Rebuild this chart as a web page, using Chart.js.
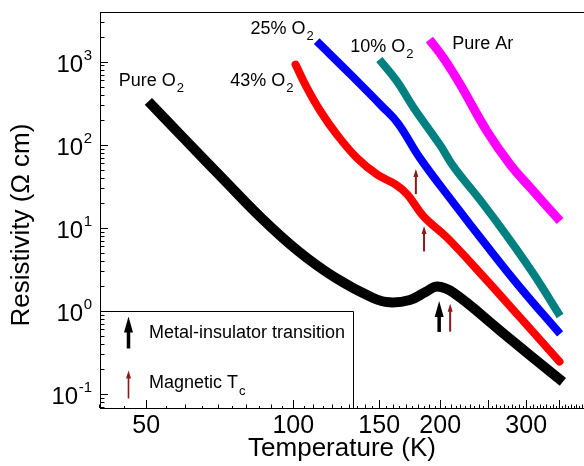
<!DOCTYPE html>
<html>
<head>
<meta charset="utf-8">
<script src="https://cdn.jsdelivr.net/npm/chart.js@4.4.1/dist/chart.umd.min.js"></script>
<style>
  html, body { margin: 0; padding: 0; background: #fff; overflow: hidden; }
</style>
</head>
<body>
<canvas id="chart" width="584" height="466"></canvas>
<script>
// Temperature (K) and resistivity (ohm cm)
const pureO2T = [50.5, 59.5, 72.1, 86.0, 102.4, 122.0, 145.4, 157.2, 173.3, 186.6, 197.2, 212.8, 265.5, 305.6, 356.6];
const pureO2R = [333, 122, 38.0, 13.2, 5.26, 2.51, 1.445, 1.27, 1.356, 1.69, 1.97, 1.66, 0.578, 0.293, 0.140];

const o2_43T = [101.1, 106.7, 113.7, 122.8, 135.0, 148.4, 161.9, 171.2, 184.8, 206.7, 246.4, 291.7, 351];
const o2_43R = [923, 483, 253, 133, 69.6, 44.0, 33.3, 25.3, 13.8, 7.6, 2.51, 0.83, 0.246];

const o2_25T = [111.7, 130.9, 152.0, 164.0, 181.8, 212.9, 249.3, 291.7, 352];
const o2_25R = [1763, 705, 290, 180, 69.1, 20.0, 6.04, 1.91, 0.529];

const o2_10T = [150.1, 163.0, 176.6, 200, 212.8, 242.4, 272.5, 310.9, 352];
const o2_10R = [1062, 583, 277, 98.5, 55, 21.0, 8.36, 2.76, 0.87];

const pureArT = [190.1, 203.1, 219.8, 249.4, 278.1, 306, 352];
const pureArR = [1846, 1108, 532, 145, 57.9, 30.4, 12.1];

// transition temperatures marked by arrows
const mitTemp = 199;
const tcTemps = [178.3, 185.3, 209.6];

// axis ticks
const xTicks = [50, 100, 150, 200, 250, 300, 350];
const xLabels = [50, 100, 150, 200, 300];
const yDecades = [-1, 0, 1, 2, 3];

const FONT = "'Liberation Sans', Arial, Helvetica, sans-serif";
const TC_RED = '#8b1a1a';

function pts(xs, ys) {
  return xs.map((x, i) => ({ x: x, y: ys[i] }));
}

function drawArrow(ctx, x, yTip, yTail, shaft, headW, headL, color) {
  ctx.fillStyle = color;
  ctx.fillRect(x - shaft / 2, yTip + headL - 1, shaft, yTail - yTip - headL + 1);
  ctx.beginPath();
  ctx.moveTo(x, yTip);
  ctx.lineTo(x + headW / 2, yTip + headL);
  ctx.lineTo(x - headW / 2, yTip + headL);
  ctx.closePath();
  ctx.fill();
}

function labelWithSub(ctx, text, sub, x, y, size) {
  ctx.font = size + 'px ' + FONT;
  ctx.textAlign = 'left';
  ctx.textBaseline = 'middle';
  ctx.fillText(text, x, y);
  const w = ctx.measureText(text).width;
  ctx.font = Math.round(size * 0.7) + 'px ' + FONT;
  ctx.fillText(sub, x + w + 1, y + size * 0.42);
}

const decorations = {
  id: 'decorations',
  afterDraw(chart) {
    const { ctx, chartArea: a } = chart;
    const xs = chart.scales.x;
    const ys = chart.scales.y;
    ctx.save();
    ctx.strokeStyle = '#000';
    ctx.lineWidth = 1;

    // top frame line
    ctx.beginPath();
    ctx.moveTo(a.left, a.top + 0.5);
    ctx.lineTo(a.right, a.top + 0.5);
    ctx.stroke();

    // y ticks, pointing inward
    ctx.beginPath();
    for (let d = -2; d <= 3; d++) {
      for (let m = 1; m <= 9; m++) {
        const v = m * Math.pow(10, d);
        if (v < ys.min || v > ys.max) continue;
        const py = Math.round(ys.getPixelForValue(v)) + 0.5;
        const len = m === 1 ? 8 : 4.5;
        ctx.moveTo(a.left, py);
        ctx.lineTo(a.left + len, py);
      }
    }
    // x ticks
    for (let t = 40; t <= 390; t += 5) {
      const px = Math.round(xs.getPixelForValue(t)) + 0.5;
      let len = t % 10 === 0 ? 3.5 : 2;
      if (xTicks.includes(t)) len = 8;
      ctx.moveTo(px, a.bottom);
      ctx.lineTo(px, a.bottom - len);
    }
    ctx.stroke();

    // y tick labels 10^n
    ctx.fillStyle = '#000';
    ctx.textBaseline = 'alphabetic';
    yDecades.forEach(d => {
      const py = ys.getPixelForValue(Math.pow(10, d));
      const exp = d < 0 ? '-' + (-d) : String(d);
      ctx.font = '15px ' + FONT;
      const ew = ctx.measureText(exp).width;
      const right = a.left - 8;
      ctx.textAlign = 'left';
      ctx.fillText(exp, right - ew, py - 2);
      ctx.font = '24px ' + FONT;
      ctx.textAlign = 'right';
      ctx.fillText('10', right - ew - 0.5, py + 10);
    });

    // y axis title
    ctx.save();
    ctx.translate(22, 225);
    ctx.rotate(-Math.PI / 2);
    ctx.font = '26px ' + FONT;
    ctx.textAlign = 'center';
    ctx.textBaseline = 'middle';
    ctx.fillText('Resistivity (\u03A9 cm)', 0, 0);
    ctx.restore();

    // curve labels
    ctx.fillStyle = '#000';
    labelWithSub(ctx, 'Pure O', '2', xs.getPixelForValue(43.9), ys.getPixelForValue(580), 18);
    labelWithSub(ctx, '43% O', '2', xs.getPixelForValue(74.3), ys.getPixelForValue(580), 18);
    labelWithSub(ctx, '25% O', '2', xs.getPixelForValue(81.7), ys.getPixelForValue(2450), 18);
    labelWithSub(ctx, '10% O', '2', xs.getPixelForValue(130.9), ys.getPixelForValue(1520), 18);
    ctx.font = '18px ' + FONT;
    ctx.textAlign = 'left';
    ctx.textBaseline = 'middle';
    ctx.fillText('Pure Ar', xs.getPixelForValue(211.6), ys.getPixelForValue(1620));

    // transition arrows
    drawArrow(ctx, xs.getPixelForValue(mitTemp), ys.getPixelForValue(1.32), ys.getPixelForValue(0.56), 3.5, 9, 16, '#000');
    const tcTips = [[51, 25.5], [10.5, 5.2], [1.22, 0.564]];
    tcTemps.forEach((t, i) => {
      drawArrow(ctx, xs.getPixelForValue(t), ys.getPixelForValue(tcTips[i][0]), ys.getPixelForValue(tcTips[i][1]), 2, 5, 8, TC_RED);
    });

    // legend box
    const boxTop = Math.round(ys.getPixelForValue(1)) + 0.5;
    const boxRight = a.left + 253.5;
    ctx.strokeStyle = '#000';
    ctx.lineWidth = 1;
    ctx.beginPath();
    ctx.moveTo(a.left, boxTop);
    ctx.lineTo(boxRight, boxTop);
    ctx.lineTo(boxRight, a.bottom);
    ctx.stroke();
    drawArrow(ctx, a.left + 28.5, boxTop + 5, boxTop + 37, 3.5, 9, 16, '#000');
    drawArrow(ctx, a.left + 28.5, boxTop + 59, boxTop + 87, 1.6, 5, 8, TC_RED);
    ctx.fillStyle = '#000';
    ctx.font = '18px ' + FONT;
    ctx.textAlign = 'left';
    ctx.textBaseline = 'middle';
    ctx.fillText('Metal-insulator transition', a.left + 49, boxTop + 22);
    labelWithSub(ctx, 'Magnetic T', 'c', a.left + 49, boxTop + 72, 18);

    ctx.restore();
  }
};

function series(xs, ys, color, width, cap) {
  return {
    data: pts(xs, ys),
    borderColor: color,
    backgroundColor: color,
    borderWidth: width,
    borderCapStyle: cap || 'butt',
    borderJoinStyle: 'round',
    tension: 0.4,
    pointRadius: 0,
    fill: false
  };
}

const ctx = document.getElementById('chart').getContext('2d');
new Chart(ctx, {
  type: 'line',
  data: {
    datasets: [
      series(pureArT, pureArR, '#ff00ff', 9),
      series(o2_10T, o2_10R, '#008080', 8),
      series(o2_25T, o2_25R, '#0000ff', 8),
      series(o2_43T, o2_43R, '#ff0000', 8, 'round'),
      series(pureO2T, pureO2R, '#000000', 10)
    ]
  },
  options: {
    responsive: false,
    animation: false,
    devicePixelRatio: 1,
    layout: { padding: { top: 12, right: 0, bottom: 0, left: 0 } },
    plugins: {
      legend: { display: false },
      tooltip: { enabled: false }
    },
    scales: {
      x: {
        type: 'logarithmic',
        position: 'bottom',
        min: 40.2,
        max: 394,
        afterFit: s => { s.height = 58; },
        afterBuildTicks: s => { s.ticks = xTicks.map(v => ({ value: v })); },
        grid: { display: false, drawTicks: false },
        border: { display: true, color: '#000', width: 1 },
        ticks: {
          autoSkip: false,
          maxRotation: 0,
          padding: 3,
          color: '#000',
          font: { family: FONT, size: 25 },
          callback: v => xLabels.includes(v) ? String(v) : ''
        },
        title: {
          display: true,
          text: 'Temperature (K)',
          color: '#000',
          font: { family: FONT, size: 26 },
          padding: { top: 0, bottom: 2 }
        }
      },
      y: {
        type: 'logarithmic',
        min: 0.068,
        max: 3960,
        afterFit: s => { s.width = 100; },
        grid: { display: false, drawTicks: false },
        border: { display: true, color: '#000', width: 1 },
        ticks: { display: false }
      }
    }
  },
  plugins: [decorations]
});
</script>
</body>
</html>
